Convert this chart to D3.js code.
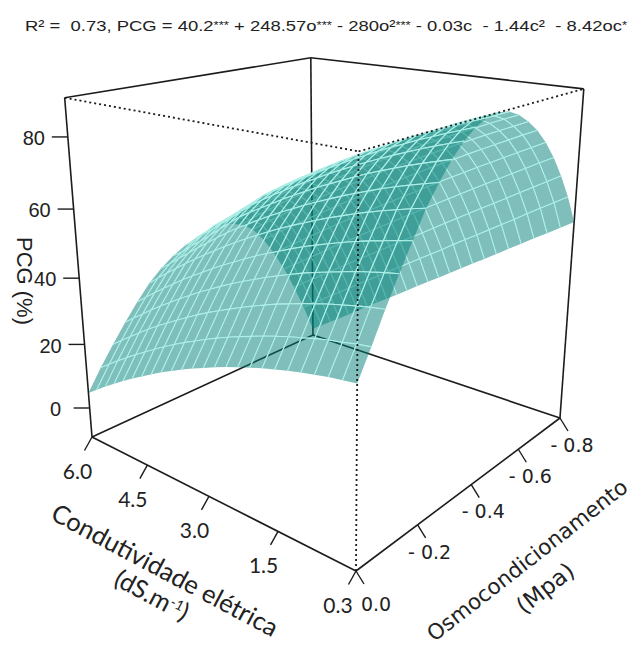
<!DOCTYPE html>
<html>
<head>
<meta charset="utf-8">
<script src="https://cdn.jsdelivr.net/npm/d3@7"></script>
<style>
    html, body { margin: 0; padding: 0; background: #fff; }
    svg { display: block; }
</style>
</head>
<body>
<div id="chart"></div>
<script>
// grid lines of the surface
const oLines = [0, 0.04, 0.08, 0.12, 0.16, 0.2, 0.24, 0.28, 0.32, 0.36, 0.4, 0.44, 0.48, 0.52, 0.56, 0.6, 0.64, 0.68, 0.72, 0.76, 0.8];
const cLines = [0, 0.25, 0.5, 0.75, 1, 1.25, 1.5, 1.75, 2, 2.25, 2.5, 2.75, 3, 3.25, 3.5, 3.75, 4, 4.25, 4.5, 4.75, 5, 5.25, 5.5, 5.75, 6];

// PCG, one row per oLines entry, one value per cLines entry
const pcgValues = [
    [38.6, 38.1, 37.6, 36.9, 36.2, 35.4, 34.5, 33.6, 32.5, 31.4, 30.2, 28.9, 27.5, 26.1, 24.6, 22.9, 21.3, 19.5, 17.6, 15.7, 13.7, 11.6, 9.4, 7.1, 4.8],
    [45.6, 45.1, 44.4, 43.8, 43.0, 42.1, 41.2, 40.2, 39.1, 37.9, 36.7, 35.4, 34.0, 32.5, 30.9, 29.3, 27.6, 25.8, 23.9, 21.9, 19.9, 17.8, 15.6, 13.3, 11.0],
    [53.0, 52.4, 51.7, 50.9, 50.1, 49.1, 48.1, 47.0, 45.9, 44.6, 43.3, 41.9, 40.4, 38.9, 37.3, 35.6, 33.8, 31.9, 30.0, 28.0, 25.9, 23.7, 21.4, 19.1, 16.7],
    [60.0, 59.3, 58.5, 57.7, 56.7, 55.7, 54.6, 53.5, 52.2, 50.9, 49.5, 48.0, 46.5, 44.9, 43.2, 41.4, 39.6, 37.6, 35.6, 33.5, 31.4, 29.2, 26.8, 24.5, 22.0],
    [66.5, 65.7, 64.8, 63.9, 62.9, 61.8, 60.6, 59.4, 58.1, 56.7, 55.2, 53.7, 52.1, 50.4, 48.6, 46.8, 44.9, 42.9, 40.9, 38.8, 36.5, 34.3, 31.9, 29.5, 27.0],
    [73.0, 72.1, 71.1, 70.1, 69.0, 67.8, 66.5, 65.2, 63.8, 62.3, 60.8, 59.2, 57.5, 55.7, 53.9, 52.0, 50.0, 47.9, 45.8, 43.6, 41.3, 39.0, 36.6, 34.1, 31.5],
    [78.0, 77.0, 76.0, 74.9, 73.7, 72.4, 71.1, 69.7, 68.2, 66.7, 65.1, 63.4, 61.7, 59.9, 58.0, 56.0, 54.0, 51.9, 49.6, 47.2, 44.8, 42.3, 39.9, 37.3, 34.9],
    [82.5, 81.4, 80.3, 79.1, 77.8, 76.5, 75.1, 73.6, 72.0, 70.4, 68.8, 67.0, 65.2, 63.4, 61.4, 59.4, 57.4, 55.3, 52.7, 50.0, 47.4, 44.8, 42.4, 39.7, 37.6],
    [86.0, 84.8, 83.6, 82.3, 80.9, 79.5, 78.0, 76.5, 74.9, 73.2, 71.5, 69.7, 67.9, 66.0, 64.0, 62.0, 59.9, 57.7, 55.1, 52.4, 49.8, 47.2, 44.8, 41.9, 39.6],
    [88.5, 87.2, 85.9, 84.5, 83.1, 81.6, 80.1, 78.5, 76.8, 75.1, 73.3, 71.5, 69.6, 67.7, 65.7, 63.6, 61.5, 59.4, 56.7, 54.1, 51.4, 48.8, 46.5, 43.5, 41.0],
    [90.0, 88.7, 87.3, 85.8, 84.3, 82.8, 81.2, 79.5, 77.8, 76.1, 74.3, 72.4, 70.5, 68.5, 66.5, 64.5, 62.4, 60.2, 57.6, 54.9, 52.3, 49.7, 47.4, 44.4, 42.0],
    [90.5, 89.1, 87.6, 86.1, 84.5, 82.9, 81.3, 79.6, 77.9, 76.1, 74.2, 72.4, 70.4, 68.5, 66.5, 64.4, 62.3, 60.1, 57.7, 55.3, 52.9, 50.5, 48.1, 45.2, 42.5],
    [90.0, 88.5, 87.0, 85.4, 83.8, 82.1, 80.4, 78.7, 76.9, 75.1, 73.2, 71.3, 69.4, 67.4, 65.4, 63.3, 61.2, 59.1, 56.9, 54.7, 52.4, 50.1, 47.8, 44.8, 42.0],
    [88.5, 86.9, 85.3, 83.6, 81.9, 80.2, 78.5, 76.7, 74.8, 73.0, 71.1, 69.2, 67.2, 65.2, 63.2, 61.1, 59.0, 56.9, 54.7, 52.5, 50.3, 48.0, 45.7, 43.1, 40.5],
    [86.0, 84.3, 82.6, 80.9, 79.1, 77.3, 75.5, 73.6, 71.7, 69.8, 67.9, 65.9, 63.9, 61.9, 59.9, 57.8, 55.7, 53.6, 51.4, 49.2, 47.0, 44.7, 42.4, 40.1, 37.8],
    [83.0, 81.2, 79.3, 77.5, 75.6, 73.7, 71.7, 69.8, 67.8, 65.8, 63.8, 61.7, 59.7, 57.6, 55.4, 53.3, 51.1, 48.9, 46.7, 44.5, 42.3, 40.0, 37.7, 35.3, 33.0],
    [79.0, 77.0, 75.0, 73.0, 71.0, 69.0, 66.9, 64.9, 62.8, 60.7, 58.5, 56.4, 54.2, 52.1, 49.9, 47.7, 45.4, 43.2, 40.9, 38.7, 36.4, 34.0, 31.7, 29.4, 27.0],
    [74.0, 71.9, 69.7, 67.6, 65.4, 63.3, 61.1, 58.9, 56.7, 54.5, 52.3, 50.0, 47.8, 45.5, 43.3, 41.0, 38.7, 36.4, 34.1, 31.8, 29.4, 27.1, 24.7, 22.4, 20.0],
    [68.0, 65.7, 63.4, 61.1, 58.8, 56.5, 54.2, 51.9, 49.6, 47.3, 44.9, 42.6, 40.3, 38.0, 35.6, 33.3, 30.9, 28.6, 26.2, 23.9, 21.5, 19.1, 16.8, 14.4, 12.0],
    [61.0, 58.6, 56.2, 53.8, 51.3, 48.9, 46.5, 44.1, 41.7, 39.3, 36.8, 34.4, 32.0, 29.6, 27.2, 24.8, 22.3, 19.9, 17.5, 15.1, 12.7, 10.3, 7.8, 5.4, 3.0],
    [52.5, 50.0, 47.5, 45.1, 42.6, 40.1, 37.6, 35.1, 32.7, 30.2, 27.7, 25.2, 22.8, 20.3, 17.8, 15.3, 12.8, 10.4, 7.9, 5.4, 2.9, 0.4, -2.0, -4.5, -7.0]
];

// axis ticks
const zTicks = [0, 20, 40, 60, 80];
const cTicks = [6, 4.5, 3, 1.5, 0];
const cTickLabels = ["6.0", "4.5", "3.0", "1.5", "0.3"];
const oTicks = [0, 0.2, 0.4, 0.6, 0.8];
const oTickLabels = ["0.0", "- 0.2", "- 0.4", "- 0.6", "- 0.8"];

const width = 635, height = 647;

// data to unit cube
const cScale = d3.scaleLinear().domain([6, 0]).range([0, 1]);
const oScale = d3.scaleLinear().domain([0, 0.8]).range([0, 1]);
const zScale = d3.scaleLinear().domain([-9.4, 90.5]).range([0, 1]);

// perspective camera, fitted by hand to the box in the picture
const camera = [
    [191.23, 295.4, -33.8, 92],
    [17.29, -22.37, -349, 437],
    [-0.2044, 0.2377, -0.1, 1]
];

function depth(c, o, z) {
    const u = cScale(c), v = oScale(o), w = zScale(z);
    return camera[2][0] * u + camera[2][1] * v + camera[2][2] * w + camera[2][3];
}

function project(c, o, z) {
    const u = cScale(c), v = oScale(o), w = zScale(z);
    const d = depth(c, o, z);
    return [
        (camera[0][0] * u + camera[0][1] * v + camera[0][2] * w + camera[0][3]) / d,
        (camera[1][0] * u + camera[1][1] * v + camera[1][2] * w + camera[1][3]) / d
    ];
}

const svg = d3.select("#chart")
    .append("svg")
    .attr("width", width)
    .attr("height", height);

const line = d3.line();
const cMin = 0, cMax = 6, oMin = 0, oMax = 0.8, zMin = -9.4, zMax = 90.5;

function edge(g, a, b) {
    return g.append("path").attr("d", line([project(...a), project(...b)]));
}

// back of the box, seen through the surface
const backEdges = svg.append("g")
    .attr("fill", "none").attr("stroke", "#1c1c1c").attr("stroke-width", 1.6);
edge(backEdges, [cMax, oMax, zMin], [cMax, oMax, zMax]);
edge(backEdges, [cMax, oMin, zMin], [cMax, oMax, zMin]);
edge(backEdges, [cMax, oMax, zMin], [cMin, oMax, zMin]);
edge(backEdges, [cMax, oMin, zMax], [cMax, oMax, zMax]);
edge(backEdges, [cMax, oMax, zMax], [cMin, oMax, zMax]);
edge(backEdges, [cMax, oMin, zMin], [cMax, oMin, zMax]);
edge(backEdges, [cMin, oMax, zMin], [cMin, oMax, zMax]);
edge(backEdges, [cMax, oMin, zMin], [cMin, oMin, zMin]);
edge(backEdges, [cMin, oMin, zMin], [cMin, oMax, zMin]);

// surface cells, far ones first so the near ones lie over them
const cells = [];
const lastO = oLines.length - 1, lastC = cLines.length - 1;
for (let i = 0; i < lastO; i++) {
    for (let j = 0; j < lastC; j++) {
        const corners = [
            [cLines[j], oLines[i], pcgValues[i][j]],
            [cLines[j + 1], oLines[i], pcgValues[i][j + 1]],
            [cLines[j + 1], oLines[i + 1], pcgValues[i + 1][j + 1]],
            [cLines[j], oLines[i + 1], pcgValues[i + 1][j]]
        ].map(p => ({ at: project(...p), far: depth(...p) }));
        // the rim of the surface gets no mesh line
        const inner = [i > 0, j + 1 < lastC, i + 1 < lastO, j > 0];
        cells.push({ corners: corners, inner: inner, far: d3.mean(corners, p => p.far) });
    }
}
cells.sort((a, b) => b.far - a.far);

const cellGroups = svg.append("g")
    .selectAll("g")
    .data(cells)
    .enter()
    .append("g");

cellGroups.append("path")
    .attr("d", d => line(d.corners.map(p => p.at)) + "Z")
    .attr("fill", "#007d75")
    .attr("fill-opacity", 0.5);

cellGroups.append("path")
    .attr("d", d => d.inner
        .map((keep, k) => keep ? line([d.corners[k].at, d.corners[(k + 1) % 4].at]) : "")
        .join(""))
    .attr("fill", "none")
    .attr("stroke", "#adefe8")
    .attr("stroke-width", 1.1);

// dotted front edges on top of the surface
const frontEdges = svg.append("g")
    .attr("fill", "none").attr("stroke", "#1c1c1c")
    .attr("stroke-width", 1.8).attr("stroke-dasharray", "2 3");
edge(frontEdges, [cMin, oMin, zMin], [cMin, oMin, zMax]);
edge(frontEdges, [cMax, oMin, zMax], [cMin, oMin, zMax]);
edge(frontEdges, [cMin, oMin, zMax], [cMin, oMax, zMax]);

// tick marks and labels
const ticks = svg.append("g").attr("stroke", "#1c1c1c").attr("stroke-width", 1.4);
const labels = svg.append("g").attr("fill", "#222").attr("text-anchor", "middle");

function tickMark(p, dx, dy) {
    ticks.append("path").attr("d", line([p, [p[0] + dx, p[1] + dy]]));
}

function tickLabel(p, dx, dy, text, font, size) {
    labels.append("text")
        .attr("x", p[0] + dx)
        .attr("y", p[1] + dy)
        .attr("dy", "0.36em")
        .attr("font-family", font)
        .attr("font-size", size)
        .text(text);
}

zTicks.forEach(z => {
    const p = project(cMax, oMin, z);
    tickMark(p, -16, 0);
    tickLabel(p, -34, 1, z, "Liberation Sans", 20);
});

cTicks.forEach((c, i) => {
    const p = project(c, oMin, zMin);
    tickMark(p, -7.5, 13.5);
    tickLabel(p, i === 4 ? -18 : -14.5, 34, cTickLabels[i], "Lato", 21);
});

oTicks.forEach((o, i) => {
    const p = project(cMin, o, zMin);
    tickMark(p, 8, 13);
    tickLabel(p, i === 0 ? 20 : 12, i === 0 ? 33 : 27, oTickLabels[i], "DejaVu Sans", 19);
});

// axis titles
function axisTitle(x, y, angle, font, size) {
    return svg.append("text")
        .attr("transform", `translate(${x},${y}) rotate(${angle})`)
        .attr("text-anchor", "middle")
        .attr("dy", "0.36em")
        .attr("fill", "#222")
        .attr("font-family", font)
        .attr("font-size", size);
}

axisTitle(25, 281, 90, "Liberation Sans", 22).text("PCG (%)");
axisTitle(165, 570, 28, "Lato", 25.5).text("Condutividade elétrica");
const unit = axisTitle(152, 595, 28, "Lato", 25);
unit.append("tspan").text("(dS.m");
unit.append("tspan").attr("font-size", 14).attr("dy", -8).text("-1");
unit.append("tspan").attr("dy", 8).text(")");
axisTitle(527, 560, -38, "DejaVu Sans", 21.5).text("Osmocondicionamento");
axisTitle(545, 588, -38, "DejaVu Sans", 23).text("(Mpa)");

// equation above the box
const title = svg.append("text")
    .attr("x", 25)
    .attr("y", 31)
    .attr("fill", "#222")
    .attr("font-family", "Liberation Sans")
    .attr("font-size", 15.5)
    .attr("textLength", 602)
    .attr("lengthAdjust", "spacingAndGlyphs");

const titleParts = [
    ["R² =  0.73, PCG = 40.2", false], ["***", true], [" + 248.57o", false], ["***", true],
    [" - 280o²", false], ["***", true], [" - 0.03c  - 1.44c²  - 8.42oc", false], ["*", true]
];
titleParts.forEach(part => {
    title.append("tspan")
        .style("white-space", "pre")
        .attr("baseline-shift", part[1] ? "2" : null)
        .attr("font-size", part[1] ? 11 : null)
        .text(part[0]);
});
</script>
</body>
</html>
